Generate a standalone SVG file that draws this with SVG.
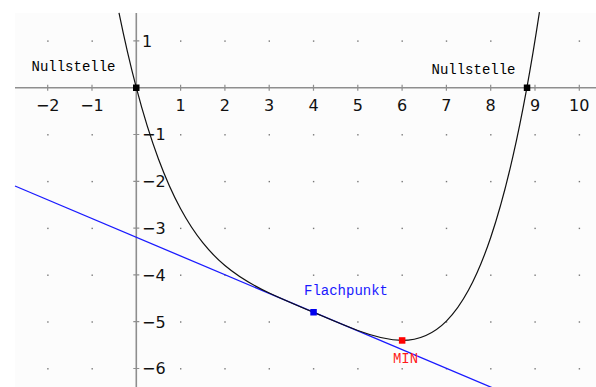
<svg xmlns="http://www.w3.org/2000/svg" width="596" height="387" viewBox="0 0 596 387">
<defs>
<style>
.ax{stroke:#8e8e8e;stroke-width:1.6;fill:none}
.tk{stroke:#8e8e8e;stroke-width:1.2}
.num{font-family:"DejaVu Sans",sans-serif;font-size:16px;fill:#111}
.lbl{font-family:"Liberation Mono","DejaVu Sans Mono",monospace;font-size:14px}
.dot{fill:#777}
</style>
</defs>
<rect width="596" height="387" fill="#ffffff"/>
<rect x="15" y="13" width="581" height="374" fill="#fcfcfc"/>
<g id="grid">
<g class="dot">
<rect x="47.2" y="40.4" width="1.4" height="1.4"/><rect x="91.5" y="40.4" width="1.4" height="1.4"/><rect x="180" y="40.4" width="1.4" height="1.4"/><rect x="224.3" y="40.4" width="1.4" height="1.4"/><rect x="268.6" y="40.4" width="1.4" height="1.4"/><rect x="312.9" y="40.4" width="1.4" height="1.4"/><rect x="357.2" y="40.4" width="1.4" height="1.4"/><rect x="401.5" y="40.4" width="1.4" height="1.4"/><rect x="445.8" y="40.4" width="1.4" height="1.4"/><rect x="490.1" y="40.4" width="1.4" height="1.4"/><rect x="578.7" y="40.4" width="1.4" height="1.4"/>
<rect x="47.2" y="134.1" width="1.4" height="1.4"/><rect x="91.5" y="134.1" width="1.4" height="1.4"/><rect x="180" y="134.1" width="1.4" height="1.4"/><rect x="224.3" y="134.1" width="1.4" height="1.4"/><rect x="268.6" y="134.1" width="1.4" height="1.4"/><rect x="312.9" y="134.1" width="1.4" height="1.4"/><rect x="357.2" y="134.1" width="1.4" height="1.4"/><rect x="401.5" y="134.1" width="1.4" height="1.4"/><rect x="445.8" y="134.1" width="1.4" height="1.4"/><rect x="490.1" y="134.1" width="1.4" height="1.4"/><rect x="534.4" y="134.1" width="1.4" height="1.4"/><rect x="578.7" y="134.1" width="1.4" height="1.4"/>
<rect x="47.2" y="180.9" width="1.4" height="1.4"/><rect x="91.5" y="180.9" width="1.4" height="1.4"/><rect x="224.3" y="180.9" width="1.4" height="1.4"/><rect x="268.6" y="180.9" width="1.4" height="1.4"/><rect x="312.9" y="180.9" width="1.4" height="1.4"/><rect x="357.2" y="180.9" width="1.4" height="1.4"/><rect x="401.5" y="180.9" width="1.4" height="1.4"/><rect x="445.8" y="180.9" width="1.4" height="1.4"/><rect x="490.1" y="180.9" width="1.4" height="1.4"/><rect x="534.4" y="180.9" width="1.4" height="1.4"/><rect x="578.7" y="180.9" width="1.4" height="1.4"/>
<rect x="47.2" y="227.7" width="1.4" height="1.4"/><rect x="91.5" y="227.7" width="1.4" height="1.4"/><rect x="180" y="227.7" width="1.4" height="1.4"/><rect x="224.3" y="227.7" width="1.4" height="1.4"/><rect x="268.6" y="227.7" width="1.4" height="1.4"/><rect x="312.9" y="227.7" width="1.4" height="1.4"/><rect x="357.2" y="227.7" width="1.4" height="1.4"/><rect x="401.5" y="227.7" width="1.4" height="1.4"/><rect x="445.8" y="227.7" width="1.4" height="1.4"/><rect x="534.4" y="227.7" width="1.4" height="1.4"/><rect x="578.7" y="227.7" width="1.4" height="1.4"/>
<rect x="47.2" y="274.5" width="1.4" height="1.4"/><rect x="91.5" y="274.5" width="1.4" height="1.4"/><rect x="180" y="274.5" width="1.4" height="1.4"/><rect x="224.3" y="274.5" width="1.4" height="1.4"/><rect x="312.9" y="274.5" width="1.4" height="1.4"/><rect x="357.2" y="274.5" width="1.4" height="1.4"/><rect x="401.5" y="274.5" width="1.4" height="1.4"/><rect x="445.8" y="274.5" width="1.4" height="1.4"/><rect x="490.1" y="274.5" width="1.4" height="1.4"/><rect x="534.4" y="274.5" width="1.4" height="1.4"/><rect x="578.7" y="274.5" width="1.4" height="1.4"/>
<rect x="47.2" y="321.3" width="1.4" height="1.4"/><rect x="91.5" y="321.3" width="1.4" height="1.4"/><rect x="180" y="321.3" width="1.4" height="1.4"/><rect x="224.3" y="321.3" width="1.4" height="1.4"/><rect x="268.6" y="321.3" width="1.4" height="1.4"/><rect x="357.2" y="321.3" width="1.4" height="1.4"/><rect x="401.5" y="321.3" width="1.4" height="1.4"/><rect x="445.8" y="321.3" width="1.4" height="1.4"/><rect x="490.1" y="321.3" width="1.4" height="1.4"/><rect x="534.4" y="321.3" width="1.4" height="1.4"/><rect x="578.7" y="321.3" width="1.4" height="1.4"/>
<rect x="47.2" y="368.1" width="1.4" height="1.4"/><rect x="91.5" y="368.1" width="1.4" height="1.4"/><rect x="180" y="368.1" width="1.4" height="1.4"/><rect x="224.3" y="368.1" width="1.4" height="1.4"/><rect x="268.6" y="368.1" width="1.4" height="1.4"/><rect x="312.9" y="368.1" width="1.4" height="1.4"/><rect x="357.2" y="368.1" width="1.4" height="1.4"/><rect x="401.5" y="368.1" width="1.4" height="1.4"/><rect x="445.8" y="368.1" width="1.4" height="1.4"/><rect x="490.1" y="368.1" width="1.4" height="1.4"/><rect x="534.4" y="368.1" width="1.4" height="1.4"/><rect x="578.7" y="368.1" width="1.4" height="1.4"/>
</g>
</g>
<g id="axes">
<line class="ax" x1="15" y1="87.7" x2="596" y2="87.7"/>
<line class="ax" x1="136.3" y1="13" x2="136.3" y2="387"/>
<path class="tk" d="M47.7 84.7v6M92 84.7v6M180.6 84.7v6M224.9 84.7v6M269.2 84.7v6M313.5 84.7v6M357.8 84.7v6M402.1 84.7v6M446.4 84.7v6M490.7 84.7v6M535 84.7v6M579.3 84.7v6"/>
<path class="tk" d="M133.3 40.9h6M133.3 134.5h6M133.3 181.3h6M133.3 228.1h6M133.3 274.9h6M133.3 321.7h6M133.3 368.5h6"/>
<g class="num" text-anchor="middle">
<text x="47.7" y="111">−2</text><text x="92" y="111">−1</text><text x="180.6" y="111">1</text><text x="224.9" y="111">2</text><text x="269.2" y="111">3</text><text x="313.5" y="111">4</text><text x="357.8" y="111">5</text><text x="402.1" y="111">6</text><text x="446.4" y="111">7</text><text x="490.7" y="111">8</text><text x="535" y="111">9</text><text x="579.3" y="111">10</text>
</g>
<g class="num">
<text x="142" y="46.7">1</text><text x="142" y="140.3">−1</text><text x="142" y="187.1">−2</text><text x="142" y="233.9">−3</text><text x="142" y="280.7">−4</text><text x="142" y="327.5">−5</text><text x="142" y="374.3">−6</text>
</g>
</g>
<g id="connectors">
<line id="tangent" x1="15" y1="186" x2="492" y2="387.6" stroke="#1a1aff" stroke-width="1.3"/>
<path id="curve" fill="none" stroke="#111" stroke-width="1.2" d="M119 12.9C124.76 41.07 130.54 65.8 136.3 87.7C143.68 115.78 151.07 139.18 158.45 159.02C165.83 178.86 173.22 195.15 180.6 208.8C187.98 222.45 195.37 233.49 202.75 242.7C210.13 251.91 217.52 259.3 224.9 265.54C239.67 278.02 254.43 286.02 269.2 293.04C283.97 300.06 298.73 306.1 313.5 312.34C328.27 318.58 343.03 325.02 357.8 330.48C372.57 335.94 387.33 340.42 402.1 340.42C416.87 340.42 431.63 335.94 446.4 321.12C453.78 313.71 461.17 303.66 468.55 290.06C475.93 276.46 483.32 259.3 490.7 237.46C498.08 215.62 505.47 189.14 512.85 156.72C521.71 117.82 530.57 70.36 539.43 12.05"/>
</g>
<g id="zero1">
<rect x="133" y="84.5" width="6.5" height="6.5" fill="#000"/>
<text class="lbl" x="31.5" y="71" fill="#000">Nullstelle</text>
</g>
<g id="zero2">
<rect x="523.8" y="84.5" width="6.5" height="6.5" fill="#000"/>
<text class="lbl" x="431.5" y="74" fill="#000">Nullstelle</text>
</g>
<g id="flachpunkt">
<rect x="310.3" y="309" width="6.5" height="6.5" fill="#0000ee"/>
<text class="lbl" x="304" y="295" fill="#1a1aff">Flachpunkt</text>
</g>
<g id="min">
<rect x="398.9" y="337.2" width="6.5" height="6.5" fill="#ff0000"/>
<text class="lbl" x="405.5" y="362.5" fill="#ff1a1a" text-anchor="middle">MIN</text>
</g>
</svg>
